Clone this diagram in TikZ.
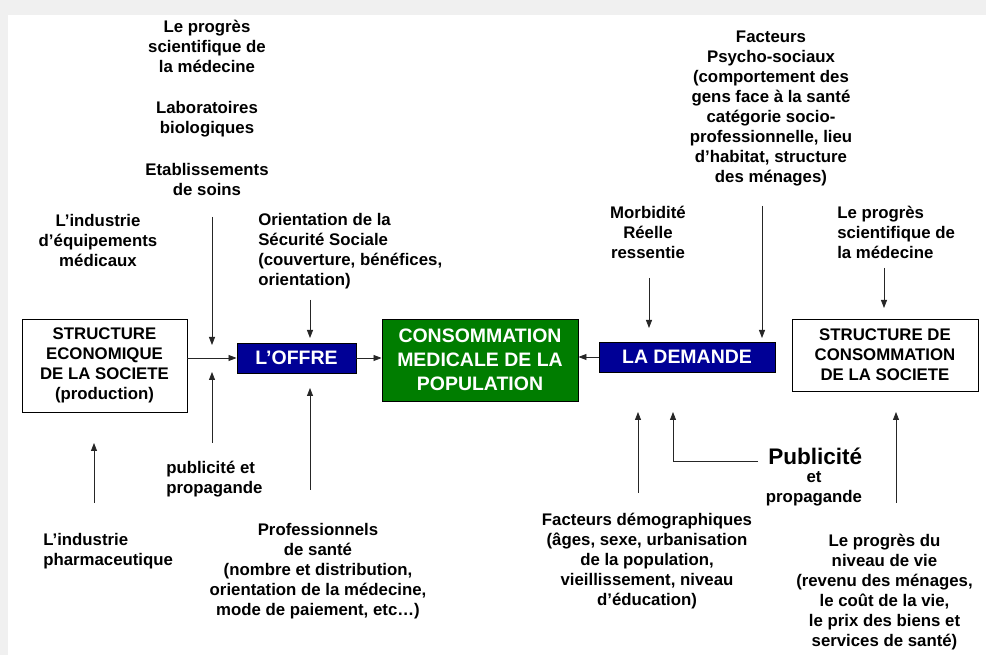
\documentclass[tikz,border=0pt]{standalone}
\usepackage{fontspec}
\setmainfont{Liberation Sans}
\usetikzlibrary{arrows.meta}
\definecolor{offreblue}{RGB}{0,0,150}
\definecolor{consogreen}{RGB}{0,125,0}

\begin{document}
\begin{tikzpicture}[
    x=0.75pt, y=-0.75pt,
    txt/.style={align=center, inner sep=0pt, font=\bfseries\fontsize{12.6}{15}\selectfont},
    box/.style={rectangle, draw, line width=0.7pt, align=center, inner sep=0pt, font=\bfseries\fontsize{12.6}{15}\selectfont},
    colbox/.style={rectangle, draw, line width=0.7pt, align=center, inner sep=0pt, text=white, font=\bfseries\fontsize{14.6}{18}\selectfont},
    arrow/.style={-{Triangle[length=6pt,width=4.5pt]}, line width=0.6pt, draw=black!85}
]
    % page
    \fill[black!6] (0,0) rectangle (986,655);
    \fill[white] (8,15) rectangle (986,655);
    \useasboundingbox (0,0) rectangle (986,655);

    % main boxes
    \node[box, minimum width=123.75pt, minimum height=69.75pt] (econ) at (104.5,365.5) {STRUCTURE\\ECONOMIQUE\\DE LA SOCIETE\\(production)};
    \node[colbox, fill=offreblue, minimum width=89.25pt, minimum height=22.5pt] (offre) at (296.5,358) {L’OFFRE};
    \node[colbox, fill=consogreen, minimum width=147pt, minimum height=61.5pt] (conso) at (480,360) {CONSOMMATION\\MEDICALE DE LA\\POPULATION};
    \node[colbox, fill=offreblue, minimum width=132pt, minimum height=22.5pt] (demande) at (687,357) {LA DEMANDE};
    \node[box, minimum width=139.5pt, minimum height=54pt] (structconso) at (885,355) {STRUCTURE DE\\CONSOMMATION\\DE LA SOCIETE};

    % left side texts
    \node[txt] (progres) at (207,46) {Le progrès\\scientifique de\\la médecine};
    \node[txt] (labos) at (207,119) {Laboratoires\\biologiques};
    \node[txt] (etab) at (207,180) {Etablissements\\de soins};
    \node[txt] (equip) at (98,240) {L’industrie\\d’équipements\\médicaux};
    \node[txt, align=left, anchor=west] (secu) at (258,251.5) {Orientation de la\\Sécurité Sociale\\(couverture, bénéfices,\\orientation)};
    \node[txt, align=left, anchor=west] (pubg) at (166,479) {publicité et\\propagande};
    \node[txt] (profs) at (318,571.5) {Professionnels\\de santé\\(nombre et distribution,\\orientation de la médecine,\\mode de paiement, etc…)};
    \node[txt, align=left, anchor=west] (pharma) at (43,551) {L’industrie\\pharmaceutique};

    % right side texts
    \node[txt] (psycho) at (771,108.5) {Facteurs\\Psycho-sociaux\\(comportement des\\gens face à la santé\\catégorie socio-\\professionnelle, lieu\\d’habitat, structure\\des ménages)};
    \node[txt] (morbi) at (648,232) {Morbidité\\Réelle\\ressentie};
    \node[txt, align=left, anchor=west] (progresd) at (837,232) {Le progrès\\scientifique de\\la médecine};
    \node[inner sep=0pt, anchor=west, font=\bfseries\fontsize{16.9}{20}\selectfont] (pub) at (768,456) {Publicité};
    \node[txt] (pubd) at (814,489) {et\\propagande};
    \node[txt] (demo) at (647,561.5) {Facteurs démographiques\\(âges, sexe, urbanisation\\de la population,\\vieillissement, niveau\\d’éducation)};
    \node[txt] (niveau) at (884.5,592) {Le progrès du\\niveau de vie\\(revenu des ménages,\\le coût de la vie,\\le prix des biens et\\services de santé)};

    % free ends of the influence arrows
    \coordinate (etabA) at (212,217);   \coordinate (etabB) at (212,345);
    \coordinate (secuA) at (310,300);   \coordinate (secuB) at (310,338);
    \coordinate (pubgA) at (212,443);   \coordinate (pubgB) at (212,372);
    \coordinate (profsA) at (310,490);  \coordinate (profsB) at (310,388);
    \coordinate (pharmaA) at (94,503);  \coordinate (pharmaB) at (94,443);
    \coordinate (morbiA) at (649,278);  \coordinate (morbiB) at (649,328);
    \coordinate (psychoA) at (762,206); \coordinate (psychoB) at (762,338);
    \coordinate (progA) at (884,268);   \coordinate (progB) at (884,308);
    \coordinate (demoA) at (638,493);   \coordinate (demoB) at (638,412);
    \coordinate (pubB) at (673,412);
    \coordinate (niveauA) at (896,503); \coordinate (niveauB) at (896,412);

    \draw[arrow] (econ.east |- offre.west) -- (offre.west);
    \draw[arrow] (offre.east) -- (offre.east -| conso.west);
    \draw[arrow] (demande.west) -- (demande.west -| conso.east);

    \draw[arrow] (etabA) -- (etabB);
    \draw[arrow] (secuA) -- (secuB);
    \draw[arrow] (pubgA) -- (pubgB);
    \draw[arrow] (profsA) -- (profsB);
    \draw[arrow] (pharmaA) -- (pharmaB);
    \draw[arrow] (morbiA) -- (morbiB);
    \draw[arrow] (psychoA) -- (psychoB);
    \draw[arrow] (progA) -- (progB);
    \draw[arrow] (demoA) -- (demoB);
    \draw[arrow] ([xshift=-7.5pt,yshift=-3.75pt]pub.west) -| (pubB);
    \draw[arrow] (niveauA) -- (niveauB);
\end{tikzpicture}
\end{document}
